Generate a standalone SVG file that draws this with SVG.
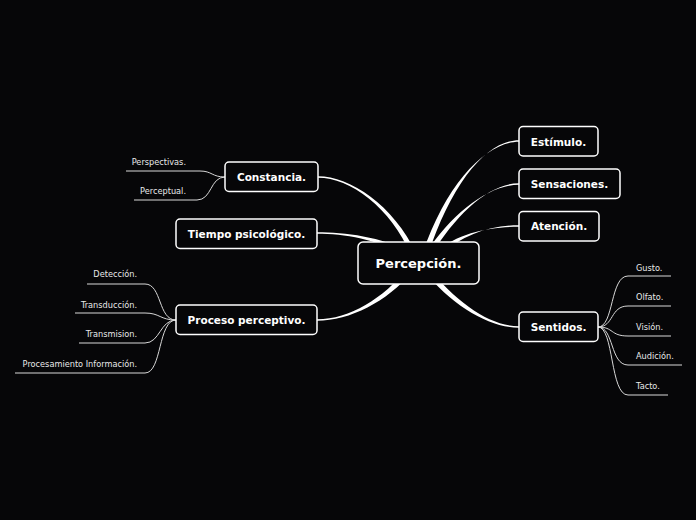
<svg xmlns="http://www.w3.org/2000/svg" width="696" height="520" viewBox="0 0 696 520">
<style>
.bg{fill:#060608}
.con{fill:#ffffff}
.sub{fill:none;stroke:#d8d8d8;stroke-width:1}
.node{fill:#060608;stroke:#ffffff;stroke-width:1.5}
.nt{font-family:"DejaVu Sans",sans-serif;font-weight:bold;font-size:10.5px;fill:#ffffff;text-anchor:middle}
.ct{font-family:"DejaVu Sans",sans-serif;font-weight:bold;font-size:13px;fill:#ffffff;text-anchor:middle}
.st{font-family:"DejaVu Sans",sans-serif;font-size:8.2px;fill:#e8e8e8}
.r{text-anchor:end}
</style>
<rect class="bg" x="0" y="0" width="696" height="520"/>
<g id="connectors">
<path class="con" d="M318,176.25 C350,176.25 393.5,205 416.5,253.9 L411.5,256.1 C390.5,207 350,177.75 318,177.75 Z"/>
<path class="con" d="M317,232.25 C345,232.25 381,236.5 411.35,252.6 L408.65,257.4 C379,239.5 345,233.75 317,233.75 Z"/>
<path class="con" d="M519,140.25 C488,140.25 452.6,180 427.6,255.9 L422.4,254.1 C447.4,180 488,141.75 519,141.75 Z"/>
<path class="con" d="M519,183.25 C490,183.25 457.3,212 430.3,256.5 L425.7,253.5 C452.7,212 490,184.75 519,184.75 Z"/>
<path class="con" d="M519,225.25 C490,225.25 463.7,234 436.7,257.1 L433.3,252.9 C460.3,232 490,226.75 519,226.75 Z"/>
<path class="con" d="M317,320.75 C350,320.75 387,301.8 412.1,271.8 L407.9,268.2 C383,298.2 350,319.25 317,319.25 Z"/>
<path class="con" d="M519,327.75 C490,327.75 452.85,306.73 422.85,269.73 L427.15,266.27 C457.15,303.27 490,326.25 519,326.25 Z"/>
<path class="sub" d="M126,171 L200,171 C212,171 212,177 225,177"/>
<path class="sub" d="M134,200 L197,200 C212,200 210,177 225,177"/>
<path class="sub" d="M87,284 L145,284 C162,284 158,320 176,320"/>
<path class="sub" d="M75,313 L145,313 C160,313 160,320 176,320"/>
<path class="sub" d="M79,343 L145,343 C160,343 160,320 176,320"/>
<path class="sub" d="M15,373 L145,373 C162,373 158,320 176,320"/>
<path class="sub" d="M598,327 C614,327 610,276 628,276 L671,276"/>
<path class="sub" d="M598,327 C614,327 610,306 628,306 L671,306"/>
<path class="sub" d="M598,327 C614,327 610,336 628,336 L671,336"/>
<path class="sub" d="M598,327 C614,327 610,365 628,365 L682,365"/>
<path class="sub" d="M598,327 C614,327 610,395 628,395 L668,395"/>
</g>
<g id="n-percepcion"><rect class="node" x="358" y="242" width="121" height="42" rx="5"/><text class="ct" x="418.5" y="268">Percepción.</text></g>
<g id="n-estimulo"><rect class="node" x="519" y="126.5" width="79" height="29.5" rx="4"/><text class="nt" x="558.5" y="145.5">Estímulo.</text></g>
<g id="n-sensaciones"><rect class="node" x="519" y="169" width="101" height="29.5" rx="4"/><text class="nt" x="569.5" y="188">Sensaciones.</text></g>
<g id="n-atencion"><rect class="node" x="519" y="211.5" width="80" height="29.5" rx="4"/><text class="nt" x="559" y="230">Atención.</text></g>
<g id="n-sentidos"><rect class="node" x="519" y="312" width="79" height="29.5" rx="4"/><text class="nt" x="558.5" y="331">Sentidos.</text></g>
<g id="n-constancia"><rect class="node" x="225" y="162" width="93" height="29.5" rx="4"/><text class="nt" x="271.5" y="181">Constancia.</text></g>
<g id="n-tiempo"><rect class="node" x="176" y="219" width="141" height="29.5" rx="4"/><text class="nt" x="246.5" y="238">Tiempo psicológico.</text></g>
<g id="n-proceso"><rect class="node" x="176" y="305" width="141" height="29.5" rx="4"/><text class="nt" x="246.5" y="324">Proceso perceptivo.</text></g>
<g id="s-constancia">
<text class="st r" x="186" y="165">Perspectivas.</text>
<text class="st r" x="186" y="194">Perceptual.</text>
</g>
<g id="s-proceso">
<text class="st r" x="137" y="277">Detección.</text>
<text class="st r" x="137" y="308">Transducción.</text>
<text class="st r" x="137" y="337">Transmision.</text>
<text class="st r" x="137" y="367">Procesamiento Información.</text>
</g>
<g id="s-sentidos">
<text class="st" x="636" y="271">Gusto.</text>
<text class="st" x="636" y="300">Olfato.</text>
<text class="st" x="636" y="330">Visión.</text>
<text class="st" x="636" y="359">Audición.</text>
<text class="st" x="636" y="389">Tacto.</text>
</g>
</svg>
